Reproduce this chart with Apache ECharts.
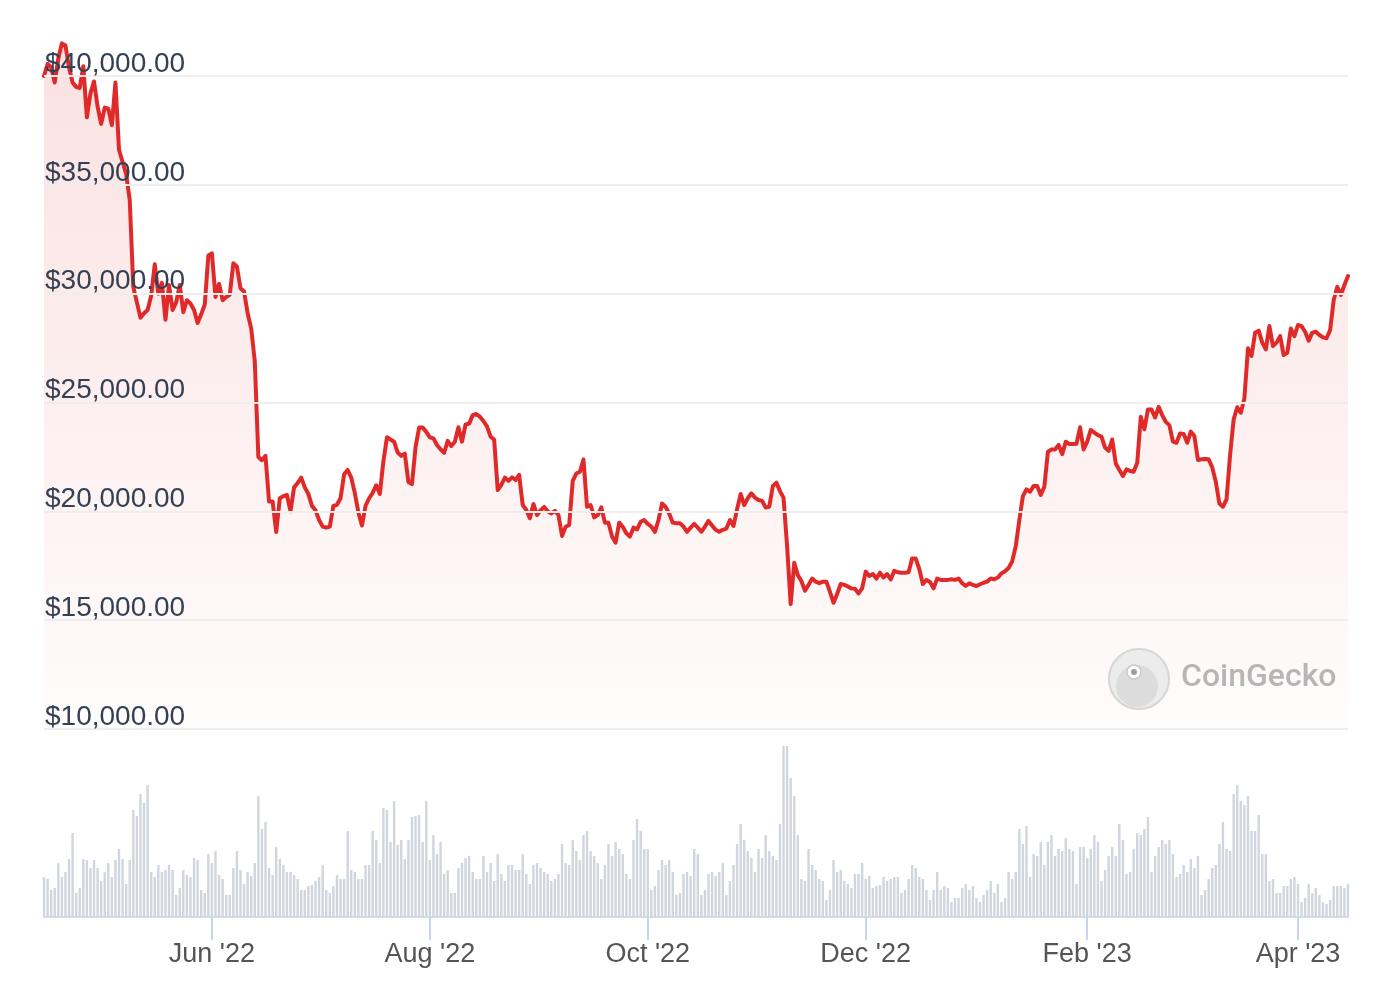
<!DOCTYPE html>
<html><head><meta charset="utf-8">
<script src="https://cdn.jsdelivr.net/npm/echarts@6/dist/echarts.min.js"></script>
<style>html,body{margin:0;padding:0;background:#fff}#chart{width:1384px;height:992px}</style>
</head><body><div id="chart"></div>
<script>
// Daily values starting 2022-04-15
const START_DATE = '2022-04-15';
const prices = [
40000,40550,40400,39700,40800,41500,41400,40400,39700,39500,
39450,40450,38100,39200,39750,38600,37800,38550,38500,37750,
39700,36600,36050,35500,34300,30300,29600,28900,29100,29250,
29900,31350,30000,30500,28800,30400,29250,29600,30400,29150,
29700,29550,29250,28650,29050,29500,31750,31850,29850,30450,
29700,29850,29950,31400,31250,30250,30100,29100,28400,26900,
22500,22350,22550,20450,20450,19050,20600,20700,20750,20000,
21100,21300,21550,21100,20800,20250,20050,19600,19300,19250,
19300,20250,20300,20600,21700,21900,21550,20850,19950,19350,
20250,20600,20850,21200,20800,22300,23400,23300,23200,22700,
22550,22650,21350,21250,22950,23850,23850,23650,23400,23350,
23050,22850,22690,23240,23000,23200,23860,23200,23990,24030,
24420,24470,24350,24150,23900,23430,23300,20980,21210,21550,
21400,21560,21440,21670,20290,20060,19680,20340,19830,20050,
20200,20000,19900,20020,19830,18870,19290,19370,21400,21740,
21820,22380,20210,20290,19720,19830,20180,19480,19480,18840,
18560,19480,19290,18990,18840,19250,19170,19520,19600,19420,
19300,19060,19600,20360,20200,19900,19480,19450,19450,19300,
19060,19250,19420,19250,19060,19300,19560,19350,19150,19060,
19150,19210,19600,19330,20100,20800,20290,20600,20830,20630,
20520,20480,20180,20210,21160,21320,20930,20630,18400,15740,
17640,17070,16800,16350,16620,16910,16770,16700,16770,16770,
16300,15800,16200,16660,16620,16550,16460,16440,16230,16460,
17230,17030,17120,16910,17180,16960,17120,16870,17270,17200,
17180,17180,17200,17830,17830,17350,16660,16850,16750,16460,
16910,16850,16850,16850,16880,16850,16910,16700,16570,16690,
16620,16570,16650,16720,16770,16910,16880,16960,17150,17250,
17400,17700,18400,19600,20700,21010,20900,21160,21160,20750,
21130,22740,22840,22840,23050,22630,23200,23090,23090,23100,
23860,22840,23200,23740,23620,23500,23430,22930,22780,23300,
22200,21900,21620,21930,21850,21820,22230,24340,23770,24680,
24680,24310,24800,24420,24110,23960,23200,23150,23580,23550,
23150,23660,23460,22360,22390,22400,22390,22020,21360,20360,
20210,20550,22590,24230,24780,24530,25190,27490,27140,28210,
28300,27750,27440,28510,27590,27750,28050,27180,27280,28400,
28050,28560,28510,28250,27840,28210,28250,28100,27990,27950,
28330,29710,30320,29940,30400,30810
];
// Daily trading volume (relative units)
const volumes = [
40,38,27,29,54,40,45,58,84,24,
29,58,57,49,57,49,36,45,54,40,
57,68,58,33,57,107,101,123,114,132,
45,40,52,45,47,52,47,22,29,47,
42,40,59,57,27,24,63,54,66,42,
38,22,22,49,66,47,33,45,41,54,
121,88,95,49,42,70,58,52,45,45,
42,38,27,27,31,32,36,40,52,27,
24,31,42,38,38,86,47,45,38,38,
52,52,86,77,54,109,107,75,116,72,
77,58,77,100,101,102,75,116,57,82,
63,75,43,47,24,24,49,54,59,61,
45,38,38,61,45,54,36,63,43,36,
52,52,47,47,63,43,33,52,54,49,
45,43,36,38,43,73,54,52,77,66,
57,82,86,66,61,54,38,52,73,61,
75,68,63,43,38,77,98,86,68,68,
27,31,47,57,52,57,45,22,24,43,
45,41,68,63,22,27,43,45,41,45,
54,22,36,52,73,93,77,66,59,45,
68,59,82,66,61,57,93,171,171,139,
121,82,38,36,68,52,47,38,36,17,
27,57,45,47,36,33,29,43,43,54,
38,41,29,31,32,40,36,38,40,40,
24,27,38,52,49,40,38,27,17,27,
45,27,31,29,15,19,19,29,33,27,
31,19,15,22,27,36,24,33,15,19,
45,38,45,88,73,91,40,63,61,75,
52,75,82,61,68,66,79,68,66,33,
70,70,59,68,82,75,36,47,61,70,
61,93,77,43,45,68,84,82,88,100,
45,61,70,77,73,77,63,40,43,52,
45,58,49,61,22,27,38,49,52,73,
95,68,66,123,132,116,112,121,86,86,
102,63,63,36,38,24,24,31,31,38,
40,33,15,19,33,24,29,22,15,13,
17,31,31,31,29,33
];
const tickDates = ['2022-06-01','2022-08-01','2022-10-01','2022-12-01','2023-02-01','2023-04-01'];
const tickLabels = ["Jun '22","Aug '22","Oct '22","Dec '22","Feb '23","Apr '23"];
const priceMin = 10000, priceMax = 40000, priceStep = 5000;

const dates = [];
const t0 = Date.parse(START_DATE + 'T00:00:00Z');
for (let i = 0; i < prices.length; i++) {
  dates.push(new Date(t0 + i * 86400000).toISOString().slice(0, 10));
}
const labelMap = {};
tickDates.forEach((d, i) => { labelMap[d] = tickLabels[i]; });
const showTick = (i) => labelMap[dates[i]] !== undefined;

const FONT = '"Liberation Sans", Arial, Helvetica, sans-serif';
const chart = echarts.init(document.getElementById('chart'), null, {renderer: 'canvas'});
chart.setOption({
  animation: false,
  backgroundColor: '#ffffff',
  grid: [
    {left: 44, right: 36, top: 76, height: 653},
    {left: 44, right: 36, top: 737, height: 180}
  ],
  xAxis: [
    {type: 'category', gridIndex: 0, data: dates, boundaryGap: false, show: false},
    {type: 'category', gridIndex: 1, data: dates, boundaryGap: false,
     axisLine: {lineStyle: {color: '#d5ddeb', width: 2}},
     axisTick: {interval: showTick, length: 23, lineStyle: {color: '#c6d4ee', width: 2}},
     axisLabel: {interval: showTick, formatter: (v) => labelMap[v] || '', fontSize: 27,
                 color: '#555555', margin: 24, fontFamily: FONT},
     splitLine: {show: false}}
  ],
  yAxis: [
    {type: 'value', gridIndex: 0, min: priceMin, max: priceMax, interval: priceStep, z: 10,
     axisLine: {show: false}, axisTick: {show: false},
     splitLine: {lineStyle: {color: '#eeeeee', width: 2}},
     axisLabel: {inside: true, margin: 1, verticalAlign: 'bottom', lineHeight: 24, fontSize: 28,
                 color: '#344054', fontFamily: FONT,
                 formatter: (v) => '$' + v.toLocaleString('en-US', {minimumFractionDigits: 2, maximumFractionDigits: 2})}},
    {type: 'value', gridIndex: 1, min: 0, max: 180, show: false, splitLine: {show: false}}
  ],
  series: [
    {type: 'line', xAxisIndex: 0, yAxisIndex: 0, data: prices, showSymbol: false, clip: false,
     lineStyle: {color: '#e02a2a', width: 4, join: 'round', cap: 'round'}, itemStyle: {color: '#e02a2a'},
     areaStyle: {color: {type: 'linear', x: 0, y: 0, x2: 0, y2: 1, colorStops: [
       {offset: 0, color: 'rgba(224,42,42,0.20)'}, {offset: 1, color: 'rgba(224,42,42,0.02)'}]}},
     z: 3},
    {type: 'bar', xAxisIndex: 1, yAxisIndex: 1, data: volumes, barWidth: 2.4,
     itemStyle: {color: '#d1d5dd'}, silent: true}
  ],
  graphic: [
    {type: 'circle', z: 100, shape: {cx: 1139, cy: 679, r: 30}, style: {fill: '#ececec', stroke: '#d6d6d6', lineWidth: 2}},
    {type: 'circle', z: 101, shape: {cx: 1137, cy: 686, r: 21}, style: {fill: '#dcdcdc'}},
    {type: 'circle', z: 102, shape: {cx: 1134, cy: 672, r: 7}, style: {fill: '#ffffff', stroke: '#c8c8c8', lineWidth: 1.5}},
    {type: 'circle', z: 103, shape: {cx: 1134, cy: 672, r: 3}, style: {fill: '#9c9c9c'}},
    {type: 'text', z: 104, x: 1181, y: 678, style: {text: 'CoinGecko', font: '500 32px Roboto, sans-serif',
      fill: '#b6b6b6', verticalAlign: 'middle', textVerticalAlign: 'middle'}}
  ]
});
</script></body></html>
